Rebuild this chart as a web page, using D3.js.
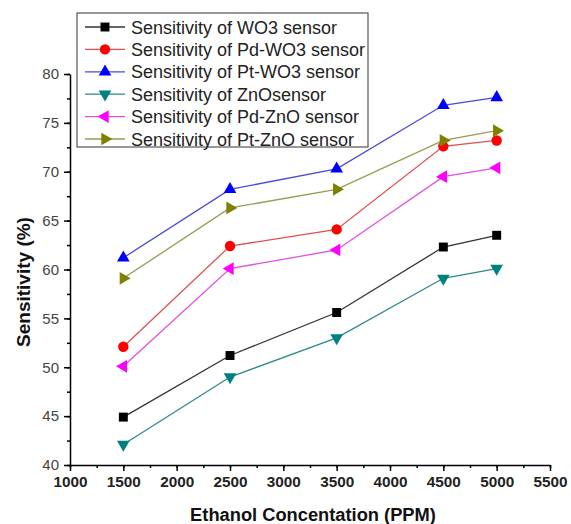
<!DOCTYPE html>
<html>
<head>
<meta charset="utf-8">
<script src="https://cdn.jsdelivr.net/npm/d3@7"></script>
<style>
  body { margin: 0; background: #fff; }
  svg { font-family: "Liberation Sans", Arial, sans-serif; }
</style>
</head>
<body>
<svg id="chart"></svg>
<script>
// concentrations (ppm)
var ppm = [1500, 2500, 3500, 4500, 5000];

var seriesNames = ["Sensitivity of WO3 sensor", "Sensitivity of Pd-WO3 sensor", "Sensitivity of Pt-WO3 sensor",
                   "Sensitivity of ZnOsensor", "Sensitivity of Pd-ZnO sensor", "Sensitivity of Pt-ZnO sensor"];
var wo3   = [44.9, 51.2, 55.6, 62.3, 63.5];
var pdWo3 = [52.1, 62.4, 64.1, 72.6, 73.2];
var ptWo3 = [61.2, 68.2, 70.3, 76.8, 77.6];
var zno   = [42.1, 49.0, 53.0, 59.1, 60.1];
var pdZno = [50.1, 60.1, 62.0, 69.5, 70.4];
var ptZno = [59.1, 66.3, 68.2, 73.2, 74.2];

var xTicks = [1000, 1500, 2000, 2500, 3000, 3500, 4000, 4500, 5000, 5500];
var yTicks = [40, 45, 50, 55, 60, 65, 70, 75, 80];

const markerColors = ["#000000", "#ff0000", "#0000ff", "#008080", "#ff00ff", "#808000"];
const lineColors = ["#333333", "#e05050", "#4a4ad8", "#2a8a8a", "#e050e0", "#9a9a50"];
// symbol type, rotation, size for each series
const shapes = [[d3.symbolSquare, 0, 80], [d3.symbolCircle, 0, 85], [d3.symbolTriangle, 0, 70],
                [d3.symbolTriangle, 180, 70], [d3.symbolTriangle, -90, 70], [d3.symbolTriangle, 90, 70]];

var allSeries = [wo3, pdWo3, ptWo3, zno, pdZno, ptZno];

var svgWidth = 571, svgHeight = 524;
var svg = d3.select("#chart").attr("width", svgWidth).attr("height", svgHeight);

var x = d3.scaleLinear().domain([1000, 5500]).range([70, 550]);
var y = d3.scaleLinear().domain([40, 80]).range([465, 74]);

// minor ticks
var xMinor = d3.range(1000, 5501, 250);
var yMinor = d3.range(40, 80.1, 2.5);

svg.append("g").attr("transform", "translate(0,465)")
   .call(d3.axisBottom(x).tickValues(xMinor).tickSize(3).tickFormat(""))
   .call(g => g.select(".domain").remove());
svg.append("g").attr("transform", "translate(70,0)")
   .call(d3.axisLeft(y).tickValues(yMinor).tickSize(3).tickFormat(""))
   .call(g => g.select(".domain").remove());

var xAxis = svg.append("g").attr("transform", "translate(0,465)")
   .call(d3.axisBottom(x).tickValues(xTicks).tickFormat(d3.format("d"))
          .tickSize(6).tickSizeOuter(0).tickPadding(5));
xAxis.selectAll("text").attr("font-size", 15.3).attr("font-weight", "bold").attr("fill", "#222")
   .attr("font-family", "Liberation Sans, Arial, sans-serif");

var yAxis = svg.append("g").attr("transform", "translate(70,0)")
   .call(d3.axisLeft(y).tickValues(yTicks).tickSize(6).tickSizeOuter(0).tickPadding(5));
yAxis.selectAll("text").attr("font-size", 15).attr("fill", "#444")
   .attr("font-family", "Liberation Sans, Arial, sans-serif");

svg.selectAll(".domain, .tick line").attr("stroke", "#000").attr("stroke-width", 1.5);

svg.append("text")
   .attr("transform", "translate(30,282) rotate(-90)")
   .attr("text-anchor", "middle")
   .attr("font-size", 19).attr("font-weight", "bold").attr("fill", "#111")
   .text("Sensitivity (%)");

svg.append("text")
   .attr("x", 313).attr("y", 521)
   .attr("text-anchor", "middle")
   .attr("font-size", 18.3).attr("font-weight", "bold").attr("fill", "#111")
   .text("Ethanol Concentation (PPM)");

var line = d3.line().x((d, i) => x(ppm[i])).y(d => y(d));

function marker(sel, i) {
  sel.attr("d", d3.symbol().type(shapes[i][0]).size(shapes[i][2]))
     .attr("fill", markerColors[i]);
}

allSeries.forEach(function(vals, i) {
  svg.append("path").datum(vals)
     .attr("d", line)
     .attr("fill", "none")
     .attr("stroke", lineColors[i])
     .attr("stroke-width", 1.3);

  svg.selectAll(null).data(vals).enter()
     .append("path")
     .call(marker, i)
     .attr("transform", (d, j) => "translate(" + x(ppm[j]) + "," + y(d) + ") rotate(" + shapes[i][1] + ")");
});

// legend
var legend = svg.append("g");
legend.append("rect")
   .attr("x", 77).attr("y", 13).attr("width", 291).attr("height", 134)
   .attr("fill", "#fff").attr("stroke", "#555").attr("stroke-width", 1.2);

seriesNames.forEach(function(name, i) {
  var ly = 27 + i * 22.4;
  legend.append("line")
     .attr("x1", 85).attr("x2", 125).attr("y1", ly).attr("y2", ly)
     .attr("stroke", lineColors[i]).attr("stroke-width", 1.3);
  legend.append("path")
     .call(marker, i)
     .attr("transform", "translate(105," + ly + ") rotate(" + shapes[i][1] + ")");
  legend.append("text")
     .attr("x", 131).attr("y", ly + 6.5)
     .attr("font-size", 18).attr("fill", "#222")
     .text(name);
});
</script>
</body>
</html>
